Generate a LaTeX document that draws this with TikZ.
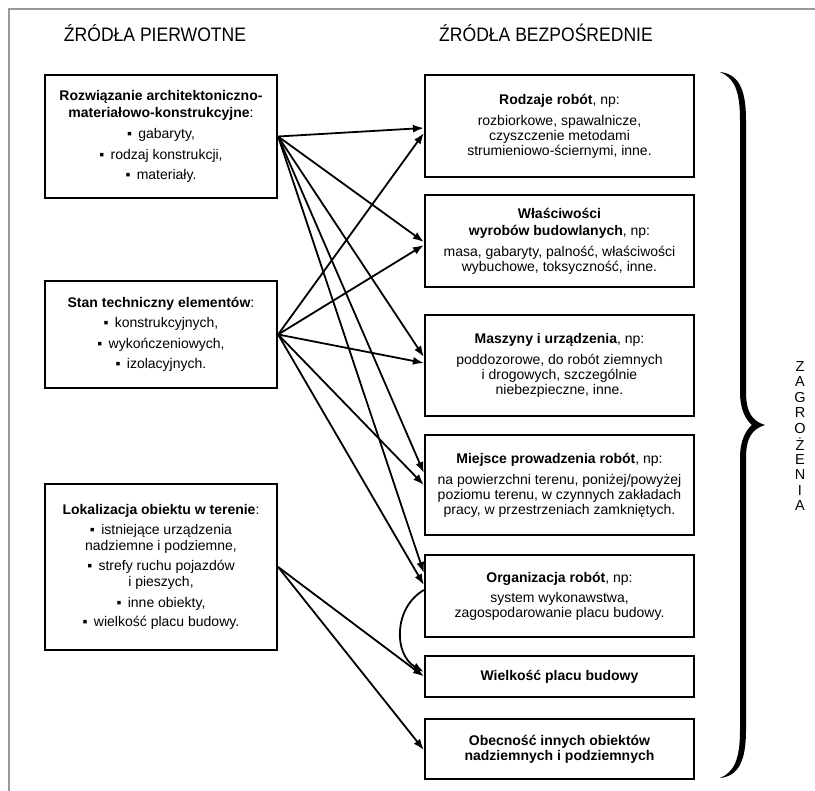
\documentclass[tikz,border=0pt]{standalone}
\usepackage{fontspec}
\setmainfont{Liberation Sans}
\newfontfamily\headfont[FakeStretch=0.9]{Liberation Sans}
\usetikzlibrary{arrows.meta}
\newcommand{\pkt}{▪\hspace{0.45em}}
\tikzset{
  srcbox/.style={draw, line width=2.2pt, minimum width=232pt, inner sep=0pt,
    align=center, font=\fontsize{14}{15.5}\selectfont},
  hazbox/.style={draw, line width=2.2pt, minimum width=269pt, inner sep=0pt,
    align=center, font=\fontsize{14}{15}\selectfont},
  arr/.style={line width=1.8pt, -{Latex[length=11pt,width=8pt]}},
  headline/.style={font=\headfont\fontsize{19.5}{22}\selectfont}
}
\begin{document}
\begin{tikzpicture}[x=1pt,y=-1pt]
  \useasboundingbox (0,0) rectangle (815,791);
  % frame of the scan
  \draw[gray!80, line width=2pt] (9,791) -- (9,9) -- (815,9);
  % headers
  \node[headline] (hpier) at (155,33) {ŹRÓDŁA PIERWOTNE};
  \node[headline] (hbezp) at (546,33) {ŹRÓDŁA BEZPOŚREDNIE};
  % primary sources
  \node[srcbox, minimum height=123pt] (zr1) at (161,136.5)
    {\textbf{Rozwiązanie architektoniczno-}\\[1.5pt]
     \textbf{materiałowo-konstrukcyjne}:\\[6pt]
     \pkt gabaryty,\\[5pt]
     \pkt rodzaj konstrukcji,\\[5pt]
     \pkt materiały.};
  \node[srcbox, minimum height=107pt] (zr2) at (161,334.5)
    {\textbf{Stan techniczny elementów}:\\[5pt]
     \pkt konstrukcyjnych,\\[5pt]
     \pkt wykończeniowych,\\[5pt]
     \pkt izolacyjnych.};
  \node[srcbox, minimum height=166pt] (zr3) at (161,567)
    {\textbf{Lokalizacja obiektu w terenie}:\\[4pt]
     \pkt istniejące urządzenia\\[1pt]
     nadziemne i podziemne,\\[4pt]
     \pkt strefy ruchu pojazdów\\[1pt]
     i pieszych,\\[5pt]
     \pkt inne obiekty,\\[4pt]
     \pkt wielkość placu budowy.};
  % direct sources
  \node[hazbox, minimum height=102pt] (bz1) at (559.5,126)
    {\textbf{Rodzaje robót}, np:\\[6pt]
     rozbiorkowe, spawalnicze,\\
     czyszczenie metodami\\
     strumieniowo-ściernymi, inne.};
  \node[hazbox, minimum height=92pt] (bz2) at (559.5,241)
    {\textbf{Właściwości}\\[2pt]
     \textbf{wyrobów budowlanych}, np:\\[6pt]
     masa, gabaryty, palność, właściwości\\
     wybuchowe, toksyczność, inne.};
  \node[hazbox, minimum height=101pt] (bz3) at (559.5,365.5)
    {\textbf{Maszyny i urządzenia}, np:\\[6pt]
     poddozorowe, do robót ziemnych\\
     i drogowych, szczególnie\\
     niebezpieczne, inne.};
  \node[hazbox, minimum height=100pt] (bz4) at (559.5,485)
    {\textbf{Miejsce prowadzenia robót}, np:\\[6pt]
     na powierzchni terenu, poniżej/powyżej\\
     poziomu terenu, w czynnych zakładach\\
     pracy, w przestrzeniach zamkniętych.};
  \node[hazbox, minimum height=82pt] (bz5) at (559.5,596)
    {\textbf{Organizacja robót}, np:\\[5pt]
     system wykonawstwa,\\
     zagospodarowanie placu budowy.};
  \node[hazbox, minimum height=41pt] (bz6) at (559.5,676.5)
    {\textbf{Wielkość placu budowy}};
  \node[hazbox, minimum height=60pt] (bz7) at (559.5,749)
    {\textbf{Obecność innych obiektów}\\
     \textbf{nadziemnych i podziemnych}};
  % connections
  \foreach \s/\t/\dy in {zr1/bz1/-2, zr1/bz2/-1, zr1/bz3/8.5, zr1/bz4/12, zr1/bz5/23,
                         zr2/bz1/-7, zr2/bz2/-4, zr2/bz3/2.5, zr2/bz4/0, zr2/bz5/11,
                         zr3/bz6/0, zr3/bz7/-1} {
    \draw[arr] (\s.east) -- ([yshift=\dy pt]\t.west);
  }
  \draw[arr] ([yshift=6pt]bz5.west) to[out=210, in=150, looseness=1.1] ([yshift=4.5pt]bz6.west);
  % brace
  \fill (720,72) .. controls (738,74) and (746,88) .. (746,120) -- (746,392)
    .. controls (746,412) and (752,421) .. (765,425)
    .. controls (752,429) and (746,438) .. (746,458) -- (746,730)
    .. controls (746,762) and (738,776) .. (720,778)
    .. controls (734,772) and (740,760) .. (740,730) -- (740,458)
    .. controls (740,440) and (746,430) .. (752,425)
    .. controls (746,420) and (740,410) .. (740,392) -- (740,120)
    .. controls (740,90) and (734,78) .. (720,72) -- cycle;
  % hazards
  \foreach \l [count=\i] in {Z,A,G,R,O,Ż,E,N,I,A} {
    \node[font=\fontsize{14.5}{15}\selectfont, inner sep=0pt] (zg\i) at (800,351+15.5*\i) {\l};
  }
\end{tikzpicture}
\end{document}
